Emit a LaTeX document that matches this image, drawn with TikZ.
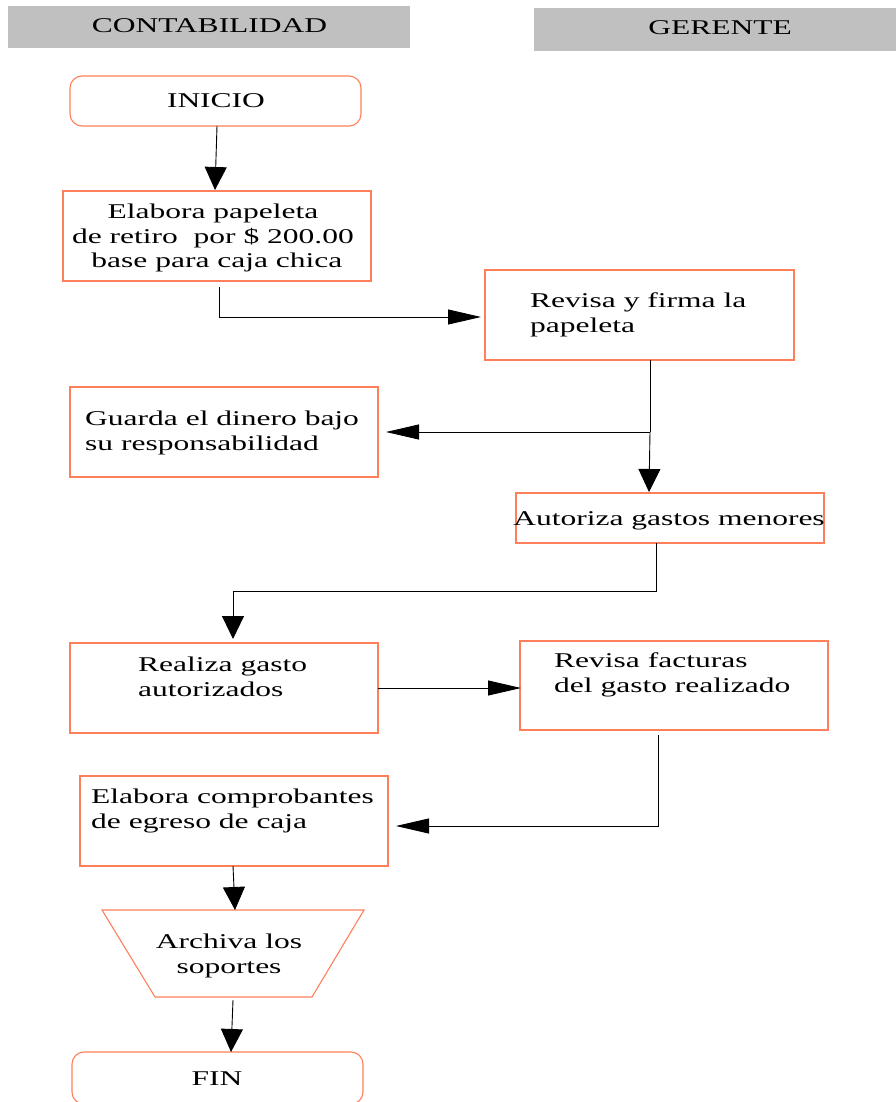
\documentclass[tikz,border=0pt]{standalone}
\usepackage{fontspec}
\setmainfont{Liberation Serif}[FakeStretch=1.5]
\usetikzlibrary{arrows.meta}
\definecolor{boxline}{RGB}{255,127,90}
\definecolor{hdr}{RGB}{192,192,192}
\tikzset{
 box/.style={draw=boxline, line width=1.1pt, inner sep=0pt},
 rbox/.style={box, rounded corners=12pt},
 hbox/.style={fill=hdr, inner sep=0pt},
 lbl/.style={inner sep=0pt, font=\fontsize{21}{25}\selectfont, anchor=base west},
 clbl/.style={inner sep=0pt, font=\fontsize{21}{25}\selectfont, anchor=base},
 conn/.style={line width=0.9pt, draw=black},
 varr/.style={conn, -{Triangle[length=23pt,width=22pt]}},
 harr/.style={conn, -{Triangle[length=33pt,width=15pt]}},
}
\newcommand{\ltext}[1]{\parbox[t]{400pt}{\raggedright #1}}
\newcommand{\ctext}[1]{\parbox[t]{400pt}{\centering #1}}
\begin{document}
\begin{tikzpicture}[x=1pt,y=-1pt]
\useasboundingbox (0,0) rectangle (896,1102);
\clip (0,0) rectangle (896,1102);
% headers
\node[hbox, minimum width=402pt, minimum height=42pt] (hcont) at (209,27) {};
\node[clbl] (thcont) at (209.5,33) {CONTABILIDAD};
\node[hbox, minimum width=362pt, minimum height=43pt] (hger) at (715,29.5) {};
\node[clbl] (thger) at (720,35) {GERENTE};
% boxes
\node[rbox, minimum width=291pt, minimum height=50pt] (inicio) at (215.5,101) {};
\node[clbl] (tinicio) at (216,108) {INICIO};
\node[box, minimum width=308pt, minimum height=90pt] (elab) at (217,236) {};
\node[clbl] (telab) at (213,218) {\ctext{Elabora papeleta\\de retiro\ \ por \$ 200.00\\\ base para caja chica}};
\node[box, minimum width=309pt, minimum height=90pt] (revf) at (639.5,315) {};
\node[lbl] (trevf) at (530,307) {\ltext{Revisa y firma la\\papeleta}};
\node[box, minimum width=308pt, minimum height=90pt] (guarda) at (224,432) {};
\node[lbl] (tguarda) at (85,425) {\ltext{Guarda el dinero bajo\\su responsabilidad}};
\node[box, minimum width=308pt, minimum height=50pt] (autor) at (670,518) {};
\node[clbl] (tautor) at (669,525) {Autoriza gastos menores};
\node[box, minimum width=308pt, minimum height=90pt] (realiza) at (224,688) {};
\node[lbl] (trealiza) at (138,671) {\ltext{Realiza gasto\\autorizados}};
\node[box, minimum width=308pt, minimum height=89pt] (revfact) at (674,685.5) {};
\node[lbl] (trevfact) at (554,667) {\ltext{Revisa facturas\\del gasto realizado}};
\node[box, minimum width=308pt, minimum height=90pt] (comprob) at (234,821) {};
\node[lbl] (tcomprob) at (91,803) {\ltext{Elabora comprobantes\\de egreso de caja}};
\draw[boxline, line width=1.1pt] (102,910) -- (364,910) -- (312,997) -- (155,997) -- cycle;
\node[clbl] (tarch) at (229,948) {\ctext{Archiva los\\soportes}};
\node[rbox, minimum width=291pt, minimum height=52pt] (fin) at (217.5,1078) {};
\node[clbl] (tfin) at (217,1085) {FIN};
% connector points
\coordinate (a1s) at (217,126);
\coordinate (a1e) at (215,190);
\coordinate (a2s) at (219,287);
\coordinate (a2m) at (219,317);
\coordinate (a2e) at (481,317);
\coordinate (a3s) at (650,360);
\coordinate (a3m) at (650,432);
\coordinate (a3e) at (386,432);
\coordinate (a4e) at (649,492);
\coordinate (a5s) at (656,543);
\coordinate (a5m) at (656,591);
\coordinate (a5n) at (233,591);
\coordinate (a5e) at (233,639);
\coordinate (a6s) at (378,688);
\coordinate (a6e) at (521,688);
\coordinate (a7s) at (658,735);
\coordinate (a7m) at (658,826);
\coordinate (a7e) at (396,826);
\coordinate (a8s) at (233,866);
\coordinate (a8e) at (235,910);
\coordinate (a9s) at (233,1000);
\coordinate (a9e) at (231,1052);
% connectors
\draw[varr] (a1s) -- (a1e);
\draw[harr] (a2s) -- (a2m) -- (a2e);
\draw[conn] (a3s) -- (a3m);
\draw[harr] (a3m) -- (a3e);
\draw[varr] (a3m) -- (a4e);
\draw[varr] (a5s) -- (a5m) -- (a5n) -- (a5e);
\draw[harr] (a6s) -- (a6e);
\draw[harr] (a7s) -- (a7m) -- (a7e);
\draw[varr] (a8s) -- (a8e);
\draw[varr] (a9s) -- (a9e);
\end{tikzpicture}
\end{document}
